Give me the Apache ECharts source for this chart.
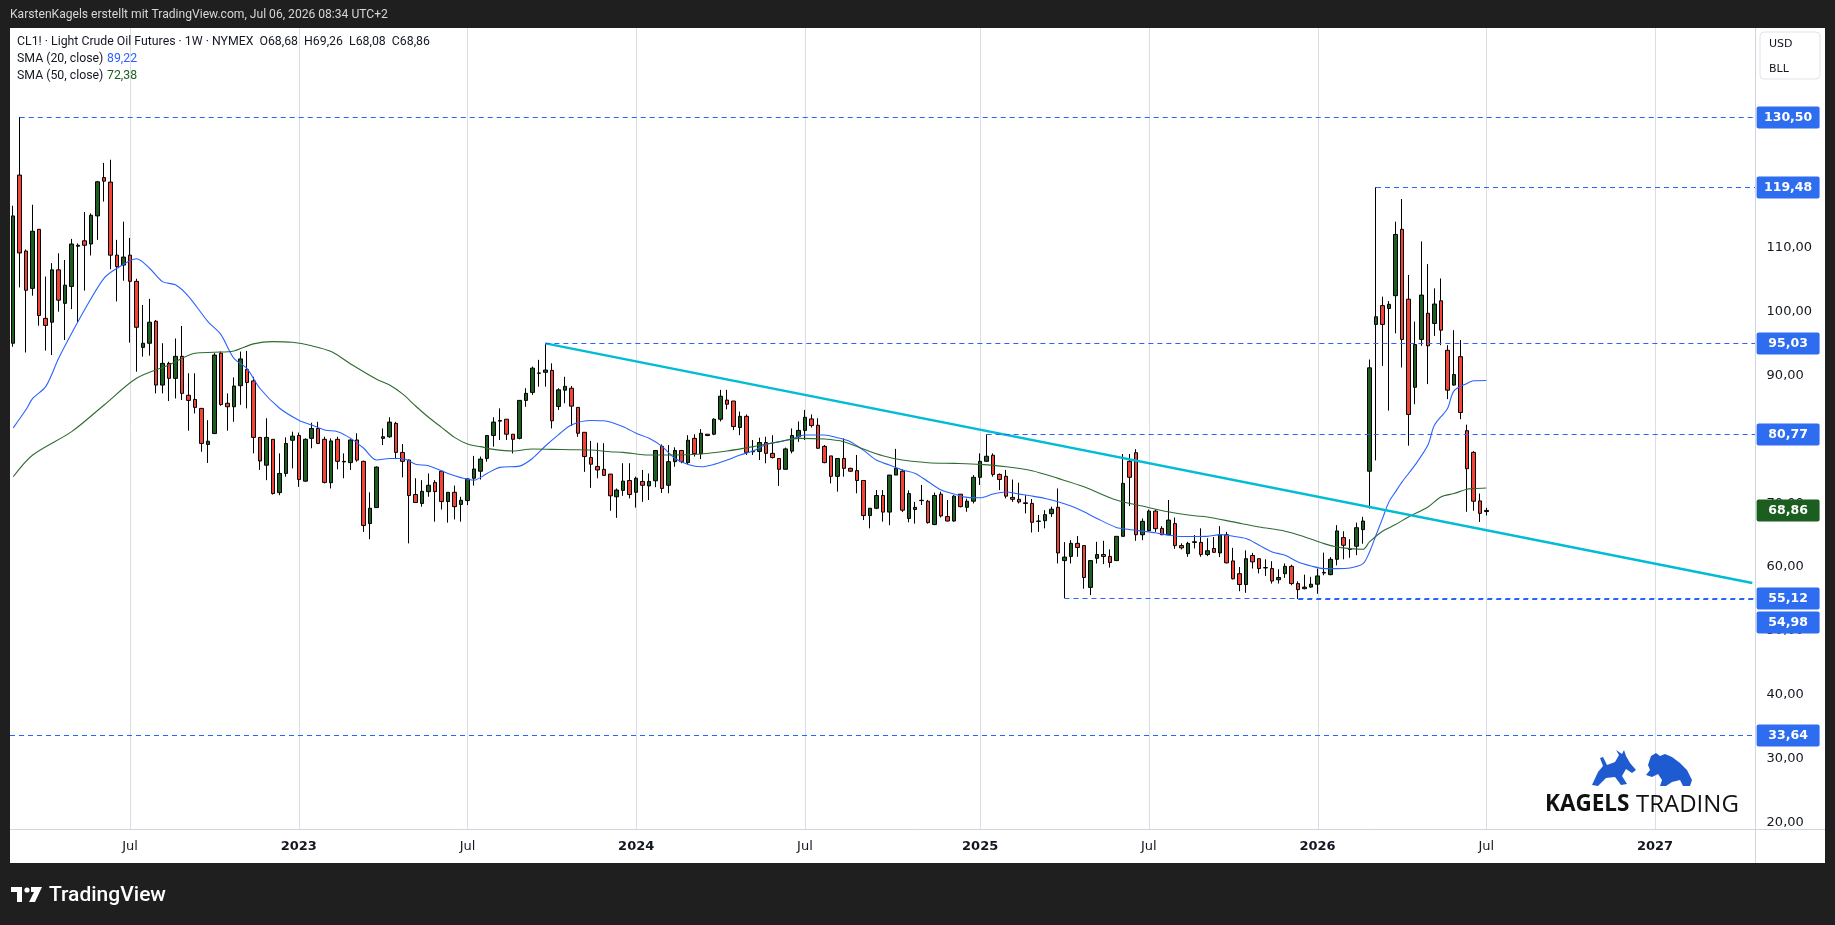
<!DOCTYPE html>
<html>
<head>
<meta charset="utf-8">
<script src="https://cdn.jsdelivr.net/npm/echarts@6/dist/echarts.min.js"></script>
<style>
  html, body { margin: 0; padding: 0; background: #1f1f1f; }
  #chart { width: 1835px; height: 925px; }
</style>
</head>
<body>
<div id="chart"></div>
<script>
// weekly bars starting Mon 28 Feb 2022: [open, high, low, close]
const startDate = Date.UTC(2022, 1, 28);
const totalWeeks = 269;   // includes empty future weeks up to the right edge
const bars = [
  [95.05,116.6,94.5,115.0],[121.4,130.5,103.8,109.2],[109.5,109.75,93.6,103.35],[103.65,116.75,102.5,112.6],
  [112.9,112.95,97.8,99.4],[98.95,105.5,93.9,97.85],[98.35,107.6,93.2,106.55],[106.55,109.15,100.0,101.8],
  [101.3,108.1,95.55,104.15],[103.95,111.4,100.4,110.6],[110.25,110.7,98.35,110.4],[111.1,115.6,103.3,110.4],
  [110.6,115.4,108.8,115.1],[115.0,120.45,111.25,120.35],[121.0,123.3,117.25,120.45],[120.3,123.8,106.65,108.85],
  [108.85,111.25,101.6,107.05],[107.3,114.1,104.85,108.55],[108.85,111.55,95.15,104.75],[104.75,105.15,90.6,97.55],
  [94.4,101.05,92.95,95.05],[95.05,102.0,93.1,98.35],[98.5,98.7,87.2,88.5],[88.5,95.05,87.2,91.9],
  [91.9,92.15,86.0,89.55],[89.55,95.8,86.4,93.0],[93.0,97.75,86.15,87.2],[86.9,90.35,81.35,86.1],
  [86.25,90.35,84.05,85.0],[84.85,84.85,78.05,79.35],[79.2,83.0,76.3,79.7],[80.9,93.5,80.85,93.2],
  [93.5,93.75,85.25,85.45],[85.65,87.2,81.35,85.1],[85.1,89.7,82.75,88.35],[88.4,93.75,85.4,92.6],
  [90.95,93.85,84.85,88.9],[89.15,89.8,77.8,80.3],[80.3,80.3,75.2,76.6],[75.95,83.3,73.6,80.3],
  [80.0,80.0,71.35,71.5],[71.65,77.8,71.25,74.65],[74.65,80.3,74.15,79.35],[79.85,81.2,75.45,80.5],
  [80.6,81.05,72.55,73.7],[73.45,80.15,73.35,80.0],[80.15,82.6,78.6,81.7],[81.7,82.75,79.25,79.35],
  [80.0,80.4,73.1,73.25],[73.2,80.15,72.3,79.75],[80.0,80.4,75.3,76.55],[76.55,77.8,73.9,76.45],
  [76.35,80.0,75.2,79.9],[79.9,80.95,76.5,76.75],[76.55,76.65,65.5,66.5],[66.8,71.7,64.35,69.2],
  [69.3,75.75,69.3,75.65],[80.15,81.7,79.1,80.4],[80.4,83.45,80.25,82.7],[82.5,82.75,76.9,77.95],
  [77.95,79.25,74.05,76.55],[76.75,76.85,63.7,71.2],[71.35,73.9,70.1,70.1],[69.95,73.6,69.45,71.85],
  [71.8,74.65,71.0,72.8],[73.25,73.6,67.1,71.8],[75.0,75.0,69.0,70.25],[70.25,71.7,66.95,71.7],
  [71.7,72.75,67.45,69.45],[69.8,71.0,67.1,70.45],[70.4,73.9,69.7,73.8],[73.9,77.4,72.75,75.35],
  [75.0,77.3,73.7,76.9],[77.0,80.6,76.5,80.6],[80.6,83.45,78.85,82.7],[82.85,84.85,79.9,82.95],
  [83.15,83.15,79.9,80.8],[80.8,80.8,77.8,80.0],[80.15,86.1,80.0,86.1],[86.1,88.0,85.1,87.2],
  [87.35,91.4,86.95,91.15],[90.35,92.45,88.25,90.4],[90.5,95.03,88.25,90.85],[90.8,91.9,81.7,82.9],
  [85.15,88.0,84.6,87.75],[87.7,89.8,85.65,88.3],[88.0,88.35,82.1,85.2],[85.0,85.0,80.4,80.95],
  [81.1,81.1,74.9,77.3],[77.15,79.75,72.4,76.1],[75.75,79.45,73.9,75.2],[75.3,79.4,74.35,74.35],
  [74.55,74.55,68.8,71.15],[71.0,72.3,67.7,72.05],[72.0,76.25,71.15,73.45],[73.55,76.25,70.75,71.35],
  [71.7,74.15,69.3,73.9],[73.4,75.2,70.2,72.8],[72.7,74.65,70.5,73.4],[73.5,78.3,72.5,78.25],
  [78.9,79.2,71.6,72.3],[72.8,79.1,71.55,76.5],[76.5,78.75,75.7,78.25],[78.25,78.3,76.25,76.5],
  [76.35,80.65,76.1,79.85],[80.15,80.8,77.3,77.75],[77.75,81.6,76.9,80.95],[80.8,80.8,80.5,80.6],
  [80.8,83.3,80.65,83.15],[83.15,87.75,82.8,86.75],[86.15,87.75,84.7,85.5],[86.0,86.0,81.45,82.0],
  [81.85,84.35,80.65,83.6],[83.6,83.9,77.55,77.95],[78.15,79.9,77.55,78.05],[78.1,80.25,76.75,79.5],
  [79.5,80.4,76.25,77.8],[77.8,80.65,77.0,77.15],[77.0,77.0,72.7,75.3],[75.3,78.7,75.3,78.5],
  [78.15,81.7,77.8,80.6],[80.4,82.8,79.6,81.4],[81.4,84.6,79.9,83.45],[83.2,83.9,81.85,82.15],
  [82.2,83.3,78.5,78.6],[78.9,79.1,76.25,76.35],[77.4,77.4,73.1,74.2],[74.2,77.0,71.8,77.0],
  [77.0,80.15,74.15,75.45],[75.45,75.55,74.9,75.0],[75.1,77.55,71.55,73.55],[73.55,73.55,67.35,68.05],
  [68.05,69.2,66.05,69.2],[69.2,72.05,69.05,71.2],[71.2,72.05,67.1,68.6],[68.6,74.4,66.55,74.4],
  [74.4,78.5,74.4,75.45],[75.0,75.3,68.6,68.9],[67.6,72.0,67.0,71.5],[69.0,70.2,66.8,69.35],
  [70.4,72.85,69.7,70.45],[70.3,70.5,66.8,66.95],[66.65,71.65,66.55,71.2],[71.4,71.8,67.75,68.0],
  [67.9,70.5,67.15,67.2],[67.2,71.25,67.1,71.1],[71.4,71.4,69.35,69.45],[69.35,70.7,68.65,70.3],
  [70.3,74.4,69.95,74.05],[74.05,77.8,72.85,76.55],[76.55,80.77,76.5,77.35],[77.5,77.8,74.15,74.5],
  [74.5,74.65,72.05,73.7],[74.2,75.2,70.75,71.1],[70.9,73.7,70.2,70.6],[70.6,73.2,69.95,70.2],
  [70.05,71.25,68.4,69.95],[69.95,70.65,65.4,67.0],[67.15,68.15,65.5,67.2],[67.25,68.9,66.05,68.2],
  [68.35,69.45,67.85,69.05],[69.35,72.3,60.55,62.2],[61.0,63.9,55.12,61.55],[61.65,64.2,60.55,63.7],
  [63.7,64.85,61.6,63.05],[63.35,63.35,56.6,58.35],[56.8,61.0,55.6,61.0],[61.35,63.95,60.55,61.95],
  [61.95,64.1,60.45,61.65],[61.65,62.75,59.9,60.7],[61.0,64.8,61.0,64.8],[64.8,77.7,64.75,73.1],
  [76.55,77.7,69.55,74.05],[77.9,78.45,64.1,65.05],[65.05,67.6,64.2,67.15],[65.7,69.0,65.6,68.75],
  [68.75,69.0,65.5,66.0],[66.05,66.4,65.0,65.05],[65.05,70.5,65.0,67.35],[66.8,67.75,62.85,63.35],
  [63.35,63.7,62.75,63.0],[62.1,63.95,61.6,63.7],[63.85,65.0,62.9,63.95],[63.85,66.05,61.6,61.95],
  [61.95,64.5,61.7,62.55],[62.9,64.7,62.2,62.3],[62.2,66.4,61.55,65.05],[65.05,65.5,60.55,60.65],
  [60.95,63.0,58.05,58.15],[58.95,60.0,56.2,57.25],[57.25,62.6,55.95,61.3],[61.8,62.2,59.75,60.8],
  [61.3,61.3,59.0,59.75],[59.9,61.2,58.6,59.85],[59.75,60.9,57.4,57.8],[58.0,59.65,57.4,58.35],
  [58.95,60.55,58.3,60.1],[60.1,60.35,57.15,57.4],[57.4,57.75,54.98,56.45],[56.6,58.8,56.5,56.85],
  [56.85,58.45,56.75,57.3],[57.3,59.75,55.8,58.6],[59.05,62.25,58.7,59.15],[58.8,61.55,58.7,61.2],
  [61.2,66.55,60.25,65.65],[64.6,65.6,61.2,63.4],[62.8,64.35,61.45,62.75],[63.25,66.95,61.85,66.15],
  [65.85,67.85,63.65,67.2],[75.0,92.5,69.15,91.2],[98.0,119.48,76.7,99.2],[100.95,102.35,91.5,98.0],
  [100.5,101.65,84.5,101.15],[102.5,114.1,96.6,112.1],[112.9,117.65,91.25,95.65],[101.95,105.75,79.0,83.9],
  [88.15,98.45,85.5,94.85],[95.65,111.0,94.65,102.6],[99.75,107.45,88.65,94.65],[98.15,103.65,96.2,101.2],
  [101.7,105.2,94.75,97.1],[93.95,94.75,86.3,87.7],[88.5,97.1,88.4,90.15],[92.95,95.55,83.15,84.2],
  [81.35,82.3,68.65,75.4],[77.95,78.15,68.8,70.3],[70.35,71.5,67.05,68.4],[68.68,69.26,68.08,68.86]
];

// moving averages: [week index, value]
const sma20 = [
  [0,81.8],[2,84.7],[3,86.4],[5,88.25],[7,92.7],[9,96.6],[11,100.3],[14,105.25],[16,106.8],[19,108.3],
  [21,106.8],[23,104.7],[25,104.2],[27,102.4],[30,98.45],[32,96.4],[34,92.7],[36,91.1],[38,88.0],[41,84.9],
  [44,83.0],[46,82.25],[48,81.45],[50,81.2],[52,80.15],[54,78.6],[56,76.75],[58,77.0],[60,77.0],[62,76.1],
  [64,75.85],[67,74.65],[69,74.0],[71,73.6],[73,74.65],[75,75.6],[78,75.8],[80,77.0],[82,78.95],[84,80.7],
  [86,82.25],[89,82.95],[91,82.9],[94,81.98],[96,80.94],[98,80.15],[100,78.85],[102,77.0],[104,76.07],
  [106,75.7],[108,76.07],[110,76.75],[112,77.54],[114,78.17],[116,79.2],[118,79.6],[120,80.05],[122,80.68],
  [125,80.68],[127,80.26],[129,79.63],[131,78.3],[133,76.75],[135,75.97],[137,75.2],[139,74.66],[141,73.36],
  [143,72.05],[145,71.42],[147,70.9],[149,70.85],[151,71.42],[153,71.74],[155,71.42],[157,71.11],[159,70.74],
  [161,70.22],[163,69.54],[165,68.65],[167,67.6],[170,66.2],[172,65.88],[174,65.62],[176,65.36],[178,64.99],
  [180,64.78],[182,64.78],[184,64.8],[186,65.07],[188,64.81],[190,64.45],[192,63.4],[194,62.35],[196,61.83],
  [198,60.78],[200,60.16],[202,59.74],[204,59.74],[206,59.84],[208,60.52],[209,62.35],[210,64.97],[211,67.58],
  [212,70.2],[213,71.77],[214,73.3],[216,75.95],[218,79.1],[219,82.2],[221,84.8],[222,87.55],[224,88.76],
  [225,89.17],[227,89.22]
];
const sma50 = [
  [0,74.14],[3,77.54],[9,81.2],[14,85.38],[19,89.56],[24,91.65],[28,93.48],[31,93.64],[34,93.85],[37,94.95],
  [40,95.31],[43,95.2],[46,94.65],[49,93.75],[52,91.81],[56,89.41],[58,88.52],[60,87.11],[62,85.22],[64,83.45],
  [66,81.88],[68,80.31],[70,79.26],[72,78.85],[74,78.43],[77,78.17],[80,78.48],[83,78.43],[86,78.37],[89,78.32],
  [92,78.06],[94,77.96],[98,77.54],[102,77.54],[106,77.7],[110,78.17],[114,78.85],[118,79.63],[121,80.15],
  [125,80.05],[128,79.63],[131,78.48],[134,77.43],[137,76.75],[141,76.34],[145,76.23],[149,76.07],[153,75.71],
  [157,75.08],[161,73.88],[165,72.57],[170,70.48],[174,69.54],[178,68.65],[182,68.03],[184,67.84],[188,67.06],
  [192,66.27],[196,65.6],[199,64.71],[202,63.66],[204,63.14],[206,62.88],[208,62.77],[209,63.92],[211,65.6],
  [213,66.64],[215,67.84],[218,69.41],[220,70.98],[222,71.5],[224,72.18],[225,72.29],[227,72.38]
];

// horizontal levels: value, week where the dashed line starts (-1 = left edge), tag shift in px
const levelValues = [130.50, 119.48, 95.03, 80.77, 55.12, 54.98, 33.64];
const levelStart  = [1, 210, 82, 150, 162, 198, -1];
const tagShift    = [0, 0, 0, 0, 0, 23, 0];
const lastClose = 68.86;
const trendLine = [[82, 95.03], [268, 57.5]];

const yMin = 18.95, yMax = 144.44;        // visible price range of the plot
const labelMin = 20, labelMax = 140, labelStep = 10;

const DAY = 86400000;
const weeks = [];
for (let i = 0; i < totalWeeks; i++) {
  weeks.push(new Date(startDate + i * 7 * DAY).toISOString().slice(0, 10));
}
function isPeriodStart(i) {
  const d = new Date(startDate + i * 7 * DAY);
  const m = d.getUTCMonth();
  return (m === 0 || m === 6) && d.getUTCDate() <= 7;
}
const gridWeeks = [];
for (let i = 0; i < totalWeeks; i++) if (isPeriodStart(i)) gridWeeks.push([i, 60]);

const fmt = (v) => v.toFixed(2).replace('.', ',');
const FONT = '"DejaVu Sans", sans-serif';
const LEG = '12.3px Roboto, sans-serif';
const TEXT = '#131722';

function tagShapes(cs, y, text, color) {
  const x = cs.x + cs.width + 1;
  return [
    { type: 'rect', shape: { x: x, y: y - 11, width: 63, height: 22, r: 2 }, style: { fill: color } },
    { type: 'text', style: { x: x + 31.5, y: y, text: text, fill: '#fff', font: 'bold 12.5px ' + FONT,
      align: 'center', verticalAlign: 'middle' } }
  ];
}

var chartDom = document.getElementById('chart');
var myChart = echarts.init(chartDom, null, { width: 1835, height: 925 });

var option = {
  animation: false,
  backgroundColor: '#ffffff',
  grid: [
    { left: 10, right: 79.4, top: 28, bottom: 96, outerBoundsMode: 'none' },
    { left: 10, right: 79.4, top: 56.3, bottom: 102.7, outerBoundsMode: 'none' }
  ],
  xAxis: [
    {
      type: 'category', gridIndex: 0, data: weeks, boundaryGap: true,
      axisLine: { show: false }, axisTick: { show: false }, splitLine: { show: false },
      axisLabel: {
        interval: (i) => isPeriodStart(i),
        margin: 11,
        formatter: (v) => {
          const d = new Date(v + 'T00:00:00Z');
          return d.getUTCMonth() === 0 ? '{y|' + d.getUTCFullYear() + '}' : '{m|Jul}';
        },
        rich: {
          y: { fontFamily: FONT, fontSize: 13, fontWeight: 'bold', color: TEXT },
          m: { fontFamily: FONT, fontSize: 13, color: TEXT }
        }
      }
    },
    { type: 'value', gridIndex: 1, show: false, min: 0, max: 1 }
  ],
  yAxis: [
    { type: 'value', gridIndex: 0, min: yMin, max: yMax, show: false, position: 'right' },
    {
      type: 'value', gridIndex: 1, min: labelMin, max: labelMax, interval: labelStep, position: 'right',
      axisLine: { show: false }, axisTick: { show: false }, splitLine: { show: false },
      axisLabel: {
        margin: 11, color: TEXT, fontFamily: FONT, fontSize: 13,
        formatter: (v) => (v >= 115 ? '' : fmt(v))
      }
    }
  ],
  series: [
    {
      type: 'custom', name: 'grid', xAxisIndex: 0, yAxisIndex: 0, z: 1, silent: true,
      data: gridWeeks, encode: { x: 0, y: 1 },
      renderItem: (params, api) => {
        const cs = params.coordSys;
        const x = Math.round(api.coord([api.value(0), 60])[0]) + 0.5;
        return { type: 'line', shape: { x1: x, y1: cs.y, x2: x, y2: cs.y + cs.height },
          style: { stroke: '#dcdee5', lineWidth: 1 } };
      }
    },
    {
      type: 'candlestick', name: 'CL1!', xAxisIndex: 0, yAxisIndex: 0, z: 3,
      barWidth: 4,
      data: bars.map((b) => [b[0], b[3], b[2], b[1]]),
      itemStyle: { color: '#1b5e20', color0: '#f44336', borderColor: '#000', borderColor0: '#000', borderWidth: 1 }
    },
    {
      type: 'line', name: 'SMA 20', xAxisIndex: 0, yAxisIndex: 0, z: 4, data: sma20,
      showSymbol: false, smooth: 0.3, lineStyle: { color: '#2962ff', width: 1.1 }
    },
    {
      type: 'line', name: 'SMA 50', xAxisIndex: 0, yAxisIndex: 0, z: 4, data: sma50,
      showSymbol: false, smooth: 0.3, lineStyle: { color: '#2e6b30', width: 1.1 }
    },
    {
      type: 'line', name: 'Trend', xAxisIndex: 0, yAxisIndex: 0, z: 5, data: trendLine,
      showSymbol: false, lineStyle: { color: '#00bcd4', width: 2.5 }
    },
    {
      type: 'custom', name: 'levels', xAxisIndex: 0, yAxisIndex: 0, z: 6, clip: false, silent: true,
      data: levelValues.map((v, k) => [levelStart[k], v, tagShift[k]]), encode: { x: 0, y: 1 },
      renderItem: (params, api) => {
        const cs = params.coordSys;
        const start = api.value(0), v = api.value(1);
        const y = Math.round(api.coord([0, v])[1]) + 0.5;
        const x0 = start < 0 ? cs.x : api.coord([start, v])[0];
        const children = [
          { type: 'line', shape: { x1: x0, y1: y, x2: cs.x + cs.width, y2: y },
            style: { stroke: '#2962ff', lineWidth: 1, lineDash: [5, 4] } }
        ].concat(tagShapes(cs, y + api.value(2), fmt(v), '#2e6df0'));
        return { type: 'group', children: children };
      }
    },
    {
      type: 'custom', name: 'last', xAxisIndex: 0, yAxisIndex: 0, z: 7, clip: false, silent: true,
      data: [[bars.length - 1, lastClose]], encode: { x: 0, y: 1 },
      renderItem: (params, api) => {
        const y = api.coord([api.value(0), api.value(1)])[1];
        return { type: 'group', children: tagShapes(params.coordSys, y, fmt(api.value(1)), '#1b5e20') };
      }
    }
  ],
  graphic: [
    // dark frame
    { type: 'rect', z: 50, shape: { x: 0, y: 0, width: 1835, height: 28 }, style: { fill: '#1f1f1f' } },
    { type: 'rect', z: 50, shape: { x: 0, y: 0, width: 10, height: 925 }, style: { fill: '#1f1f1f' } },
    { type: 'rect', z: 50, shape: { x: 1825, y: 0, width: 10, height: 925 }, style: { fill: '#1f1f1f' } },
    { type: 'rect', z: 50, shape: { x: 0, y: 863, width: 1835, height: 62 }, style: { fill: '#1f1f1f' } },
    { type: 'text', z: 51, style: { x: 10, y: 15, text: 'KarstenKagels erstellt mit TradingView.com, Jul 06, 2026 08:34 UTC+2',
      fill: '#d6d6d6', font: '12.1px Roboto, sans-serif', verticalAlign: 'middle' } },
    // separators
    { type: 'line', z: 40, shape: { x1: 10, y1: 829.5, x2: 1825, y2: 829.5 }, style: { stroke: '#d1d4dc', lineWidth: 1 } },
    { type: 'line', z: 40, shape: { x1: 1755.5, y1: 28, x2: 1755.5, y2: 863 }, style: { stroke: '#d1d4dc', lineWidth: 1 } },
    // legend
    { type: 'text', z: 40, style: { x: 17, y: 42,
      text: 'CL1! \u00b7 Light Crude Oil Futures \u00b7 1W \u00b7 NYMEX  O68,68  H69,26  L68,08  C68,86',
      fill: TEXT, font: LEG, verticalAlign: 'middle' } },
    { type: 'text', z: 40, style: { x: 17, y: 59, text: 'SMA (20, close)', fill: TEXT, font: LEG, verticalAlign: 'middle' } },
    { type: 'text', z: 40, style: { x: 107, y: 59, text: '89,22', fill: '#2962ff', font: LEG, verticalAlign: 'middle' } },
    { type: 'text', z: 40, style: { x: 17, y: 76, text: 'SMA (50, close)', fill: TEXT, font: LEG, verticalAlign: 'middle' } },
    { type: 'text', z: 40, style: { x: 107, y: 76, text: '72,38', fill: '#1b5e20', font: LEG, verticalAlign: 'middle' } },
    // currency / unit box
    { type: 'rect', z: 40, shape: { x: 1760, y: 32, width: 60, height: 47, r: 4 }, style: { fill: '#fff', stroke: '#e0e3eb' } },
    { type: 'text', z: 41, style: { x: 1769, y: 44, text: 'USD', fill: TEXT, font: '11px ' + FONT, verticalAlign: 'middle' } },
    { type: 'text', z: 41, style: { x: 1769, y: 69, text: 'BLL', fill: TEXT, font: '11px ' + FONT, verticalAlign: 'middle' } },
    // TradingView mark
    { type: 'rect', z: 51, shape: { x: 11, y: 887, width: 11, height: 5 }, style: { fill: '#fff' } },
    { type: 'rect', z: 51, shape: { x: 17, y: 887, width: 5, height: 15 }, style: { fill: '#fff' } },
    { type: 'circle', z: 51, shape: { cx: 27, cy: 890, r: 2.6 }, style: { fill: '#fff' } },
    { type: 'polygon', z: 51, shape: { points: [[31, 887], [42, 887], [35, 902], [29, 902], [34, 892], [31, 892]] }, style: { fill: '#fff' } },
    { type: 'text', z: 51, style: { x: 49, y: 896, text: 'TradingView', fill: '#fff', font: '500 21px Roboto, sans-serif', verticalAlign: 'middle' } },
    // Kagels Trading logo
    { type: 'polygon', z: 40, shape: { points: [[1592,785],[1598,772],[1603,766],[1600,758],[1603,757],[1607,765],[1615,762],[1619,755],
      [1616,750],[1622,754],[1624,750],[1626,756],[1630,763],[1636,770],[1632,773],[1626,769],[1622,776],[1627,784],[1621,785],
      [1615,777],[1606,778],[1598,786]] }, style: { fill: '#1f5bd0' } },
    { type: 'polygon', z: 40, shape: { points: [[1646,775],[1650,770],[1648,765],[1651,756],[1656,753],[1660,756],[1665,754],[1672,757],
      [1680,763],[1687,770],[1692,780],[1690,786],[1683,786],[1680,780],[1672,782],[1666,786],[1660,786],[1662,780],[1658,774],[1652,777]] },
      style: { fill: '#1f5bd0' } },
    { type: 'text', z: 40, style: { x: 1545, y: 805, text: 'KAGELS', fill: '#111', font: 'bold 22.5px "Open Sans", sans-serif', verticalAlign: 'middle' } },
    { type: 'text', z: 40, style: { x: 1636, y: 805, text: 'TRADING', fill: '#111', font: '24px "Open Sans", sans-serif', verticalAlign: 'middle' } }
  ]
};

option && myChart.setOption(option);
</script>
</body>
</html>
